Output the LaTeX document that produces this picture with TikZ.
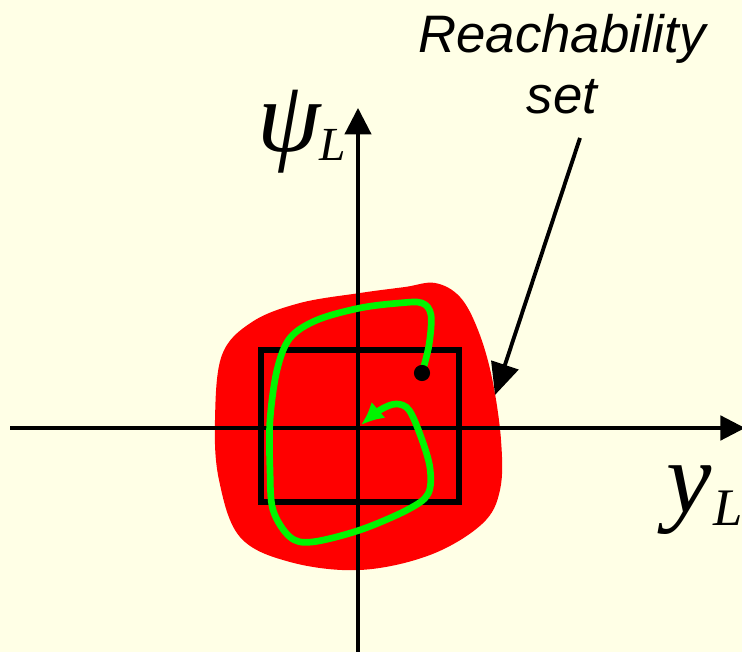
\documentclass[tikz,border=0pt]{standalone}
\usepackage{fontspec}
\setmainfont{Liberation Sans}
\newfontfamily\timesfont{Liberation Serif}
\usetikzlibrary{arrows.meta}

\definecolor{paper}{RGB}{255,255,230}
\definecolor{setred}{RGB}{255,0,0}
\definecolor{pathgreen}{RGB}{0,245,0}

\begin{document}
\begin{tikzpicture}[x=0.01cm,y=-0.01cm]
  \fill[paper] (0,0) rectangle (742,652);
  \useasboundingbox (0,0) rectangle (742,652);
  % reachability set
  \fill[setred] plot[smooth cycle,tension=0.6] coordinates {
    (435,283) (460,297) (478,330) (492,378) (501,440) (500,490) (482,524)
    (430,555) (360,570) (290,562) (240,537) (219,480) (215,420)
    (222,355) (252,322) (300,303) (360,293) (405,287)};
  % axes
  \coordinate (xl) at (10,428);
  \coordinate (xr) at (745,428);
  \coordinate (yb) at (358,652);
  \coordinate (yt) at (358,108);
  \draw[line width=0.9pt,-{Triangle[length=7pt,width=7pt]}] (xl) -- (xr);
  \draw[line width=0.9pt,-{Triangle[length=7.5pt,width=7.5pt]}] (yb) -- (yt);
  \node[inner sep=0pt,anchor=base west] (psi) at (257,152) {\timesfont\itshape\fontsize{29}{29}\selectfont ψ\kern-0.5pt\raisebox{-2.5pt}{\fontsize{13.5}{14}\selectfont L}};
  \node[inner sep=0pt,anchor=base west] (yl) at (666,513) {\timesfont\itshape\fontsize{29}{29}\selectfont y\kern0.5pt\raisebox{-3.5pt}{\fontsize{15}{15}\selectfont L}};
  % box
  \draw[line width=1.7pt] (261,350) rectangle (459,502);
  % trajectory
  \coordinate (start) at (422,373);
  \coordinate (finish) at (361,425);
  \draw[pathgreen,line width=1.9pt,-{Latex[length=6.5pt,width=6pt]}] plot[smooth,tension=0.55] coordinates {
    (start) (429,345) (431,315) (422,303) (400,303) (360,308) (317,320)
    (290,338) (277,370) (270,420) (270,470) (273,510) (290,537) (312,542)
    (360,530) (407,510) (428,494) (430,468) (421,437) (409,410) (396,404)
    (380,410) (finish)};
  \fill (start) circle (2.3pt);
  % label with pointer
  \node[align=center,font=\itshape\fontsize{15}{17.5}\selectfont] (lbl) at (562,64) {Reachability\\set};
  \coordinate (tail) at (580,138);
  \coordinate (tip) at (495,395);
  \draw[line width=1.1pt,-{Triangle[length=9pt,width=8pt]}] (tail) -- (tip);
\end{tikzpicture}
\end{document}
